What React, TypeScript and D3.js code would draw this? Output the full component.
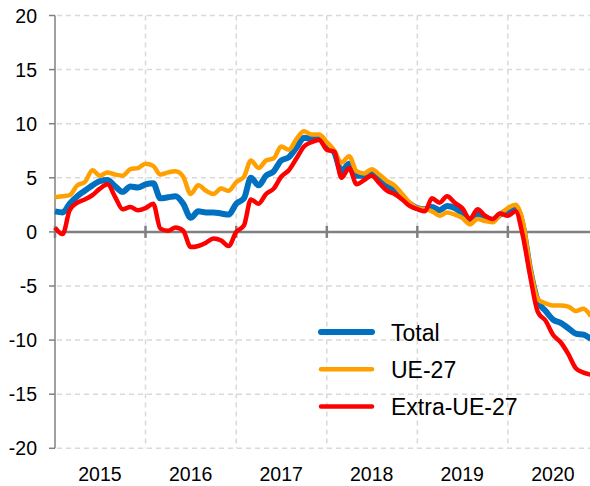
import * as d3 from 'd3';

// monthly points, Jan 2015 .. Dec 2020
const months = d3.utcMonths(new Date(Date.UTC(2015, 0, 1)), new Date(Date.UTC(2021, 0, 1)));

const total = [
  1.9, 1.8, 2.6, 3.3, 3.8, 4.3, 4.7, 4.8, 4.2, 3.7, 4.2, 4.1,
  4.4, 4.5, 3.1, 3.2, 3.3, 2.6, 1.3, 1.9, 1.8, 1.8, 1.7, 1.6,
  2.6, 3.1, 5.0, 4.3, 5.2, 5.6, 6.6, 6.9, 7.8, 8.7, 8.6, 8.6,
  8.0, 7.3, 5.6, 6.3, 5.2, 5.2, 5.4, 5.0, 4.3, 3.9, 3.2, 2.6,
  2.2, 2.1, 2.3, 2.0, 2.4, 2.2, 1.7, 1.0, 1.6, 1.2, 1.1, 1.6,
  2.0, 2.3, 0.6, -3.6, -6.4, -7.3, -8.1, -8.4, -8.9, -9.4, -9.5, -9.9,
];

const ue27 = [
  3.2, 3.3, 3.4, 4.3, 4.6, 5.7, 5.2, 5.5, 5.3, 5.2, 5.8, 5.9,
  6.3, 6.1, 5.3, 5.5, 5.6, 5.1, 3.5, 4.3, 3.8, 3.5, 4.0, 3.8,
  4.6, 5.1, 6.6, 5.9, 6.6, 6.8, 7.9, 7.6, 8.6, 9.3, 9.0, 9.0,
  8.3, 7.5, 6.4, 7.0, 5.6, 5.4, 5.8, 5.3, 4.7, 4.3, 3.5, 2.7,
  2.2, 2.1, 1.9, 1.5, 1.8, 1.6, 1.3, 0.7, 1.2, 1.0, 0.9, 1.6,
  2.2, 2.5, 1.0, -3.4, -6.2, -6.6, -6.8, -6.8, -6.9, -7.3, -7.1, -7.8,
];

const extraUe27 = [
  0.4, -0.2, 2.0, 2.7, 3.0, 3.4, 4.0, 4.4, 3.2, 2.1, 2.3, 2.0,
  2.2, 2.6, 0.3, 0.1, 0.4, 0.1, -1.4, -1.3, -1.0, -0.6, -0.8, -1.3,
  0.0, 0.6, 3.0, 2.6, 3.5, 4.0, 5.1, 5.7, 6.8, 7.9, 8.3, 8.5,
  7.6, 7.4, 5.0, 5.9, 4.4, 4.8, 5.2, 4.5, 3.8, 3.5, 3.0, 2.4,
  2.1, 1.9, 3.1, 2.7, 3.3, 2.7, 2.2, 1.2, 2.1, 1.5, 1.2, 1.7,
  1.5, 1.9, -0.3, -4.2, -7.4, -8.2, -9.5, -10.2, -11.3, -12.6, -13.0, -13.2,
];

const yTicks = [20, 15, 10, 5, 0, -5, -10, -15, -20];
const years = [2015, 2016, 2017, 2018, 2019, 2020];

const series = [
  { name: 'Total', values: total, color: '#0070c0', width: 6 },
  { name: 'UE-27', values: ue27, color: '#ffa000', width: 4.5 },
  { name: 'Extra-UE-27', values: extraUe27, color: '#ff0000', width: 4.5 },
];

const W = 590;
const H = 486;
const left = 55;

export default function App() {
  const x = d3
    .scaleUtc()
    .domain([new Date(Date.UTC(2015, 0, 1)), new Date(Date.UTC(2021, 0, 1))])
    .range([left, 598.6]);
  const y = d3.scaleLinear().domain([-20, 20]).range([448.3, 15.5]);

  const line = d3
    .line<number>()
    .x((_, i) => x(months[i]))
    .y((d) => y(d))
    .curve(d3.curveMonotoneX);

  const yearStarts = years.map((yr) => new Date(Date.UTC(yr, 0, 1)));
  const font = 'Liberation Sans, Arial, sans-serif';

  return (
    <svg width={W} height={H} style={{ position: 'absolute', left: 0, top: 0 }} fontFamily={font}>
      {/* grid */}
      {yTicks
        .filter((t) => t !== 0)
        .map((t) => (
          <line key={'h' + t} x1={left + 2} x2={W} y1={y(t)} y2={y(t)} stroke="#d9d9d9" strokeWidth={1.5} strokeDasharray="5,4" />
        ))}
      {yearStarts.slice(1).map((d, i) => (
        <line key={'v' + i} x1={x(d)} x2={x(d)} y1={y(20)} y2={y(-20)} stroke="#d9d9d9" strokeWidth={1.5} strokeDasharray="5,4" />
      ))}

      {/* y axis */}
      <line x1={left} x2={left} y1={y(20)} y2={y(-20)} stroke="#808080" strokeWidth={1.5} />
      {yTicks.map((t) => (
        <g key={'yt' + t}>
          <line x1={left - 6} x2={left} y1={y(t)} y2={y(t)} stroke="#808080" strokeWidth={1.5} />
          <text x={37} y={y(t) + 7} textAnchor="end" fontSize={19.5} fill="#000">
            {t}
          </text>
        </g>
      ))}

      {/* zero axis */}
      <line x1={left} x2={W} y1={y(0)} y2={y(0)} stroke="#808080" strokeWidth={2.5} />
      {yearStarts.map((d, i) => (
        <line key={'xt' + i} x1={x(d)} x2={x(d)} y1={y(0) - 6} y2={y(0) + 6} stroke="#808080" strokeWidth={2.5} />
      ))}
      {years.map((yr) => (
        <text key={yr} x={x(new Date(Date.UTC(yr, 6, 1)))} y={480.5} textAnchor="middle" fontSize={19.5} fill="#000">
          {yr}
        </text>
      ))}

      {/* series */}
      {series.map((s) => (
        <path key={s.name} d={line(s.values) ?? ''} fill="none" stroke={s.color} strokeWidth={s.width} strokeLinejoin="round" />
      ))}

      {/* legend */}
      {series.map((s, i) => (
        <g key={'lg' + s.name} transform={`translate(0,${332 + i * 37.3})`}>
          <line x1={321} x2={372} y1={0} y2={0} stroke={s.color} strokeWidth={s.width} strokeLinecap="round" />
          <text x={391} y={8.8} fontSize={23} fill="#000">
            {s.name}
          </text>
        </g>
      ))}
    </svg>
  );
}
